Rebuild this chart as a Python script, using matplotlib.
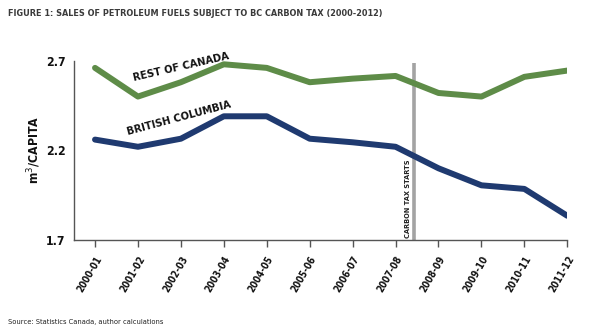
import numpy as np
import matplotlib
matplotlib.use("Agg")
import matplotlib.pyplot as plt
from matplotlib import font_manager

years = ["2000-01", "2001-02", "2002-03", "2003-04", "2004-05", "2005-06",
         "2006-07", "2007-08", "2008-09", "2009-10", "2010-11", "2011-12"]
rest_of_canada = [2.66, 2.50, 2.58, 2.68, 2.66, 2.58, 2.60, 2.615, 2.52, 2.50, 2.61, 2.645]
british_columbia = [2.26, 2.22, 2.265, 2.39, 2.39, 2.265, 2.245, 2.22, 2.10, 2.005, 1.985, 1.835]
yticks = [1.7, 2.2, 2.7]
carbon_tax_pos = 7.42

names = {f.name for f in font_manager.fontManager.ttflist}
cond = ["Liberation Sans Narrow", "DejaVu Sans"] if "Liberation Sans Narrow" in names else ["DejaVu Sans"]
stretch = "normal" if "Liberation Sans Narrow" in names else "condensed"

green = "#5e8c48"
navy = "#1f3a70"
dark = "#3a3a3a"

fig = plt.figure(figsize=(6.0, 3.31), dpi=100)
ax = fig.add_axes([0.1233, 0.2749, 0.8222, 0.5417])

x = np.arange(len(years))
ax.plot(x, rest_of_canada, color=green, lw=4.3, solid_capstyle="round", solid_joinstyle="round", zorder=3)
ax.plot(x, british_columbia, color=navy, lw=4.3, solid_capstyle="round", solid_joinstyle="round", zorder=3)

# carbon tax marker
ax.plot([carbon_tax_pos, carbon_tax_pos], [1.7, 2.685], color="#a3a3a3", lw=2.6, zorder=2, solid_capstyle="butt")
ax.text(carbon_tax_pos - 0.14, 1.93, "CARBON TAX STARTS", rotation=90, ha="center", va="center",
        fontsize=5.3, fontweight="bold", family=cond, fontstretch=stretch, color="#222222")

# series labels
ax.text(2.0, 2.665, "REST OF CANADA", rotation=13, ha="center", va="center", fontsize=8.0,
        fontweight="bold", family=cond, fontstretch=stretch, color="#111111")
ax.text(1.95, 2.378, "BRITISH COLUMBIA", rotation=15, ha="center", va="center", fontsize=8.0,
        fontweight="bold", family=cond, fontstretch=stretch, color="#111111")

ax.set_xlim(-0.49, 11)
ax.set_ylim(1.7, 2.7)
ax.set_yticks(yticks)
ax.set_yticklabels(["1.7", "2.2", "2.7"], fontsize=8.8, fontweight="bold", family=cond, fontstretch=stretch, color="#111111")
ax.tick_params(axis="y", length=0, pad=6)
ax.set_xticks(x)
ax.set_xticklabels(years, rotation=60, ha="right", va="top", rotation_mode="anchor", fontsize=7,
                   fontweight="bold", family=cond, fontstretch=stretch, color="#111111")
ax.tick_params(axis="x", length=5, width=1, color="#555555", pad=5)

for s in ["top", "right"]:
    ax.spines[s].set_visible(False)
for s in ["left", "bottom"]:
    ax.spines[s].set_color("#555555")
    ax.spines[s].set_linewidth(1)

ax.set_ylabel("m$^3$/CAPITA", fontsize=8.8, fontweight="bold", family=cond, fontstretch=stretch,
              color="#111111", labelpad=2)

fig.text(0.013, 0.958, "FIGURE 1: SALES OF PETROLEUM FUELS SUBJECT TO BC CARBON TAX (2000-2012)",
         fontsize=6.5, fontweight="bold", family=cond, fontstretch=stretch, color=dark, va="center")
fig.text(0.013, 0.027, "Source: Statistics Canada, author calculations", fontsize=5.4,
         family=cond, fontstretch=stretch, color="#222222", va="center")

fig.savefig("out.png", dpi=100)
